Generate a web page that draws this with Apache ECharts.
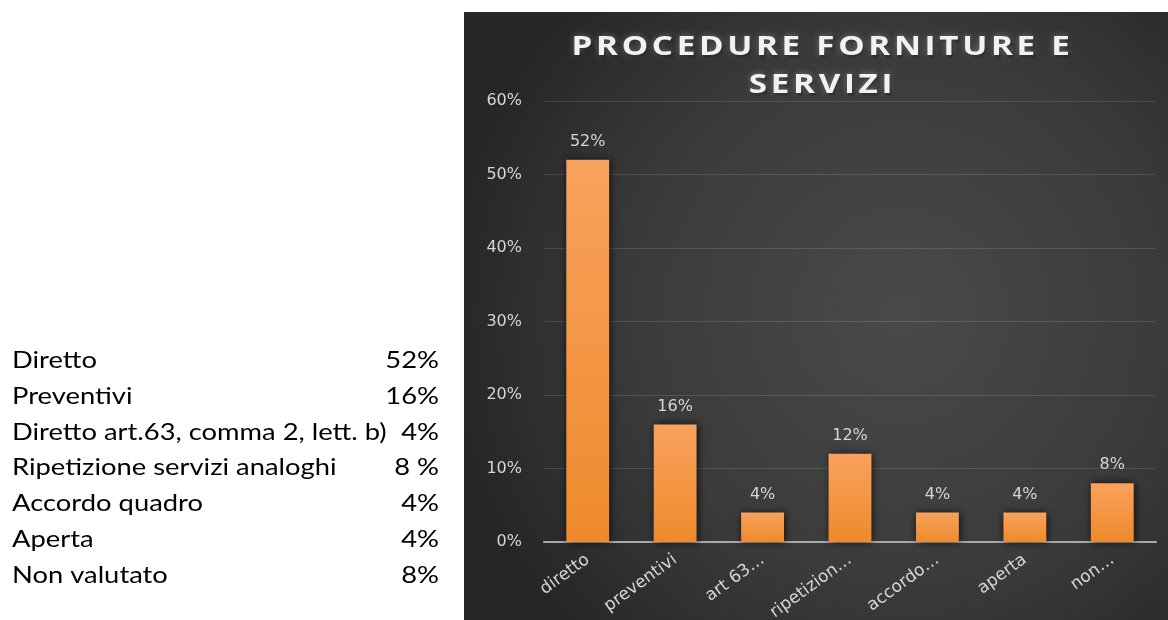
<!DOCTYPE html>
<html>
<head>
<meta charset="utf-8">
<script src="https://cdn.jsdelivr.net/npm/echarts@6/dist/echarts.min.js"></script>
<style>
  html, body { margin: 0; padding: 0; background: #ffffff; }
  #wrap { position: relative; width: 1168px; height: 620px; }
  #chart { position: absolute; left: 0; top: 0; width: 1168px; height: 620px; }
  #title {
    position: absolute; left: 464px; top: 26px; width: 704px;
    text-align: center; pointer-events: none;
    font-family: "Open Sans", sans-serif; font-weight: 700; font-size: 27px;
    line-height: 38px; color: #f2f2f2;
    text-shadow: 0 0 6px rgba(255,255,255,0.35), 1px 2px 3px rgba(0,0,0,0.8);
  }
  #title span {
    display: block; letter-spacing: 3px; margin-right: -3px;
    transform: scaleX(1.23); transform-origin: 50% 50%; margin-left: 10px;
  }
</style>
</head>
<body>
<div id="wrap">
  <div id="chart"></div>
  <div id="title"><span>PROCEDURE FORNITURE E</span><span>SERVIZI</span></div>
</div>
<script>
// Bar chart data (percent of procedures)
const categories = ['diretto', 'preventivi', 'art 63…', 'ripetizion…', 'accordo…', 'aperta', 'non…'];
const shares = [52, 16, 4, 12, 4, 4, 8];
const yTicks = { min: 0, max: 60, step: 10 };

// Summary list shown beside the chart
const listNames = ['Diretto', 'Preventivi', 'Diretto art.63, comma 2, lett. b)', 'Ripetizione servizi analoghi', 'Accordo quadro', 'Aperta', 'Non valutato'];
const listValues = ['52%', '16%', '4%', '8 %', '4%', '4%', '8%'];

const chart = echarts.init(document.getElementById('chart'), null, { renderer: 'canvas' });

const listFont = { fontFamily: 'Lato, sans-serif', fontSize: 24, fill: '#000000' };
const listGraphics = [];
listNames.forEach((name, i) => {
  const y = 360 + i * 35.9;
  listGraphics.push({
    type: 'text', x: 12, y: y, z: 10, scaleX: 1.14,
    style: Object.assign({ text: name, verticalAlign: 'middle' }, listFont)
  });
  listGraphics.push({
    type: 'text', x: 439, y: y, z: 10, scaleX: 1.14,
    style: Object.assign({ text: listValues[i], align: 'right', verticalAlign: 'middle' }, listFont)
  });
});

const panel = {
  type: 'rect', x: 464, y: 12, z: -10, silent: true,
  shape: { width: 704, height: 608 },
  style: {
    fill: new echarts.graphic.RadialGradient(0.62, 0.5, 0.75, [
      { offset: 0, color: '#4a4a4a' },
      { offset: 0.6, color: '#3a3a3a' },
      { offset: 1, color: '#262626' }
    ])
  }
};

const labelColor = '#d6d6d6';
const textFont = 'DejaVu Sans, sans-serif';

chart.setOption({
  animation: false,
  graphic: [panel].concat(listGraphics),
  grid: { left: 544, right: 12, top: 101, bottom: 78, containLabel: false, outerBoundsMode: 'none' },
  xAxis: {
    type: 'category',
    data: categories,
    axisLine: { show: true, lineStyle: { color: '#a9a9a9', width: 2 } },
    axisTick: { show: false },
    axisLabel: {
      color: labelColor, fontFamily: textFont, fontSize: 17,
      rotate: 36, margin: 16, interval: 0
    },
    splitLine: { show: false }
  },
  yAxis: {
    type: 'value',
    min: yTicks.min, max: yTicks.max, interval: yTicks.step,
    axisLine: { show: false },
    axisTick: { show: false },
    axisLabel: {
      color: labelColor, fontFamily: textFont, fontSize: 16, margin: 22,
      formatter: '{value}%'
    },
    splitLine: { show: true, lineStyle: { color: 'rgba(255,255,255,0.12)', width: 1 } }
  },
  series: [{
    type: 'bar',
    data: shares,
    barWidth: '49%',
    itemStyle: {
      color: new echarts.graphic.LinearGradient(0, 0, 0, 1, [
        { offset: 0, color: '#f9a25d' },
        { offset: 1, color: '#ee8a2c' }
      ]),
      shadowColor: 'rgba(0,0,0,0.75)',
      shadowBlur: 8,
      shadowOffsetX: 1
    },
    label: {
      show: true, position: 'top', distance: 10,
      color: labelColor, fontFamily: textFont, fontSize: 16,
      formatter: p => p.value + '%'
    }
  }]
});
</script>
</body>
</html>
